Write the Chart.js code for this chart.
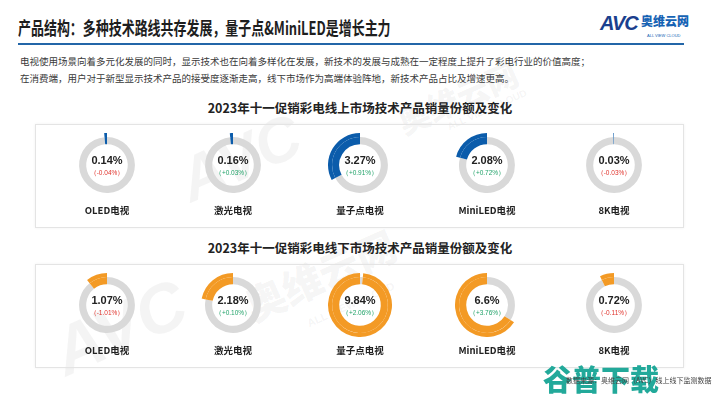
<!DOCTYPE html>
<html>
<head>
<meta charset="utf-8">
<script src="https://cdn.jsdelivr.net/npm/chart.js@4"></script>
<style>
  body { margin: 0; width: 720px; height: 405px; overflow: hidden; background: #fff; position: relative;
         font-family: "Noto Sans CJK SC", "Noto Sans", sans-serif; color: #222; }
  .abs { position: absolute; white-space: nowrap; }
  .title { left: 18px; top: 14px; font-size: 18px; font-weight: 700; transform: scaleX(0.72); transform-origin: left top; color: #1e1e1e; }
  .rule { left: 18px; top: 43px; width: 666px; height: 2px; background: #2366a8; }
  .desc { left: 20px; font-size: 9.5px; color: #3a3a3a; }
  .sec { left: 0; width: 720px; text-align: center; font-size: 12.5px; font-weight: 700; color: #222; }
  .box { left: 35px; width: 647px; height: 102px; border: 1px solid #e4e4e4; box-shadow: 0 0 3px rgba(0,0,0,0.06); }
  .ring { position: absolute; width: 64px; height: 64px; }
  .val { width: 80px; text-align: center; font-family: "Liberation Sans", Arial, sans-serif; font-weight: 700; font-size: 11px; color: #222; }
  .chg { width: 80px; text-align: center; font-family: "Liberation Sans", Arial, sans-serif; font-size: 6.5px; }
  .lab { width: 100px; text-align: center; font-size: 9.5px; font-weight: 700; color: #222; }
  .wm { color: rgba(120,120,120,0.08); font-weight: 900; transform-origin: left bottom; line-height: 1; }
</style>
</head>
<body>
<div class="abs wm" style="left:195px;top:150px;font-size:62px;font-style:italic;transform:rotate(-24deg);font-family:'Liberation Sans',sans-serif;">AVC</div>
<div class="abs wm" style="left:405px;top:105px;font-size:32px;transform:rotate(-24deg);">奥维云网</div>
<div class="abs wm" style="left:450px;top:122px;font-size:10px;transform:rotate(-24deg);font-family:'Liberation Sans',sans-serif;">ALL VIEW CLOUD</div>
<div class="abs wm" style="left:70px;top:318px;font-size:68px;font-style:italic;transform:rotate(-24deg);font-family:'Liberation Sans',sans-serif;">AVC</div>
<div class="abs wm" style="left:255px;top:285px;font-size:40px;transform:rotate(-24deg);">奥维云网</div>
<div class="abs wm" style="left:310px;top:318px;font-size:11px;transform:rotate(-24deg);font-family:'Liberation Sans',sans-serif;">ALL VIEW CLOUD</div>

<div class="abs title">产品结构：多种技术路线共存发展，量子点&amp;MiniLED是增长主力</div>
<div class="abs" style="left:600px;top:12px;font-size:20px;font-weight:900;font-style:italic;color:#1b3f8e;font-family:'Liberation Sans',sans-serif;letter-spacing:-1px;">AVC</div>
<div class="abs" style="left:641px;top:12px;font-size:12px;font-weight:900;color:#1663b4;">奥维云网</div>
<div class="abs" style="left:647px;top:33px;font-size:4px;color:#1663b4;font-family:'Liberation Sans',sans-serif;">ALL VIEW CLOUD</div>
<div class="abs rule"></div>
<div class="abs desc" style="top:54px;">电视使用场景向着多元化发展的同时，显示技术也在向着多样化在发展，新技术的发展与成熟在一定程度上提升了彩电行业的价值高度；</div>
<div class="abs desc" style="top:71px;">在消费端，用户对于新型显示技术产品的接受度逐渐走高，线下市场作为高端体验阵地，新技术产品占比及增速更高。</div>

<div class="abs sec" style="top:98px;">2023年十一促销彩电线上市场技术产品销量份额及变化</div>
<div class="abs box" style="top:124px;"></div>
<div class="abs sec" style="top:238px;">2023年十一促销彩电线下市场技术产品销量份额及变化</div>
<div class="abs box" style="top:264px;"></div>

<div id="rings"></div>

<div class="abs" style="left:543px;top:357px;font-size:29px;font-weight:900;color:#22a99a;">谷普下载</div>
<div class="abs" style="left:566px;top:375px;font-size:7px;color:#444;">数据来源：奥维云网（AVC）线上线下监测数据</div>

<script>
'use strict'

var categories = ['OLED电视', '激光电视', '量子点电视', 'MiniLED电视', '8K电视'];
var onlineShare = [0.14, 0.16, 3.27, 2.08, 0.03];
var onlineChange = [-0.04, 0.03, 0.91, 0.72, -0.03];
var offlineShare = [1.07, 2.18, 9.84, 6.6, 0.72];
var offlineChange = [-1.01, 0.10, 2.06, 3.76, -0.11];
var ringMax = 10;   // share that fills the whole ring

var centersX = [107, 233, 360, 487, 614];
var rows = [
    { y: 165, share: onlineShare, change: onlineChange, color: '#0b5cab' },
    { y: 305, share: offlineShare, change: offlineChange, color: '#f39a25' }
];

var holder = document.getElementById('rings');

function addText(cls, text, x, y, w, color) {
    var d = document.createElement('div');
    d.className = 'abs ' + cls;
    d.textContent = text;
    d.style.left = (x - w / 2) + 'px';
    d.style.top = y + 'px';
    if (color) d.style.color = color;
    holder.appendChild(d);
}

rows.forEach(function(row) {
    for (let i = 0; i < categories.length; i++) {
        var cx = centersX[i];
        var c = document.createElement('canvas');
        c.className = 'ring';
        c.width = 64; c.height = 64;
        c.style.left = (cx - 32) + 'px';
        c.style.top = (row.y - 32) + 'px';
        holder.appendChild(c);

        var v = row.share[i];
        /* colored arc ends at 12 o'clock, gray ring is thinner */
        new Chart(c, {
            type: 'doughnut',
            data: {
                datasets: [
                    { data: [ringMax - v, v], backgroundColor: ['rgba(0,0,0,0)', row.color], weight: 4, borderWidth: 0, hoverOffset: 0 },
                    { data: [ringMax - v, v], backgroundColor: ['#d9d9d9', row.color], weight: 7, borderWidth: 0, hoverOffset: 0 }
                ]
            },
            options: {
                responsive: false,
                animation: false,
                cutout: '65%',
                events: [],
                plugins: { legend: { display: false }, tooltip: { enabled: false } }
            }
        });

        var ch = row.change[i];
        var chText = '（' + (ch >= 0 ? '+' : '') + ch.toFixed(2) + '%）';
        addText('val', v + '%', cx, row.y - 11, 80);
        addText('chg', chText, cx, row.y + 4, 80, ch >= 0 ? '#23a36a' : '#e0332c');
        addText('lab', categories[i], cx, row.y + 38, 100);
    }
});
</script>
</body>
</html>
